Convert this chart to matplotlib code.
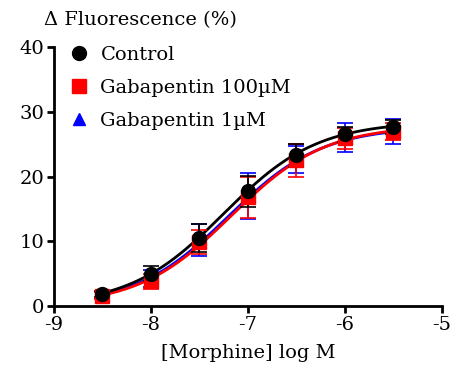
import numpy as np
import matplotlib
matplotlib.use("Agg")
import matplotlib.pyplot as plt

plt.rcParams['font.family'] = ['DejaVu Serif']
plt.rcParams['axes.unicode_minus'] = False

# ── Data ──────────────────────────────────────────────────────────────────────
log_dose = [-8.5, -8.0, -7.5, -7.0, -6.5, -6.0, -5.5]

control_mean = [1.85, 5.0, 10.5, 17.7, 23.3, 26.5, 27.7]
control_err  = [0.5, 1.2, 2.1, 2.4, 1.8, 1.2, 1.1]

gaba100_mean = [1.6, 3.8, 9.9, 16.8, 22.5, 25.9, 26.9]
gaba100_err  = [0.5, 1.2, 1.9, 3.2, 2.5, 1.6, 1.3]

gaba1_mean = [1.7, 4.3, 10.2, 17.0, 22.6, 26.0, 27.0]
gaba1_err  = [0.5, 1.3, 2.5, 3.6, 2.1, 2.2, 1.9]

# fitted sigmoid parameters: (top, logEC50, hill)
control_fit = (28.5, -7.25, 0.9)
gaba100_fit = (27.9, -7.17, 0.9)
gaba1_fit   = (27.7, -7.20, 0.9)

series = [
    ("Gabapentin 1\u00b5M",   gaba1_mean,   gaba1_err,   gaba1_fit,   "blue",  "^"),
    ("Gabapentin 100\u00b5M", gaba100_mean, gaba100_err, gaba100_fit, "red",   "s"),
    ("Control",               control_mean, control_err, control_fit, "black", "o"),
]

fig = plt.figure(figsize=(4.68, 3.76), dpi=100)
ax = fig.add_axes([0.115, 0.186, 0.829, 0.689])

xs = np.linspace(log_dose[0], log_dose[-1], 200)
handles = {}
for label, mean, err, (top, ec50, hill), color, marker in series:
    ax.plot(xs, top / (1 + 10 ** ((ec50 - xs) * hill)), color=color, lw=2, zorder=2)
    ax.errorbar(log_dose, mean, yerr=err, fmt="none", ecolor=color,
                elinewidth=1.2, capsize=6, capthick=1.2, zorder=3)
    h, = ax.plot(log_dose, mean, linestyle="none", marker=marker, color=color,
                 markersize=10 if marker != "^" else 9, zorder=4)
    handles[label] = h

order = ["Control", "Gabapentin 100\u00b5M", "Gabapentin 1\u00b5M"]
leg = ax.legend([handles[k] for k in order], order, loc="upper left",
                bbox_to_anchor=(0.02, 1.035), frameon=False, fontsize=14,
                handlelength=1.0, handletextpad=0.6, labelspacing=0.78,
                borderaxespad=0)

ax.set_xlim(-9, -5)
ax.set_ylim(0, 40)
ax.set_xticks([-9, -8, -7, -6, -5])
ax.set_yticks([0, 10, 20, 30, 40])
for s in ["top", "right"]:
    ax.spines[s].set_visible(False)
for s in ["left", "bottom"]:
    ax.spines[s].set_linewidth(2)
ax.tick_params(direction="out", length=5, width=2, labelsize=14, pad=2)

ax.set_xlabel("[Morphine] log M", fontsize=14, labelpad=7)
fig.text(0.094, 0.947, "\u0394 Fluorescence (%)", fontsize=14, ha="left", va="center")

fig.savefig("out.png", dpi=100)
